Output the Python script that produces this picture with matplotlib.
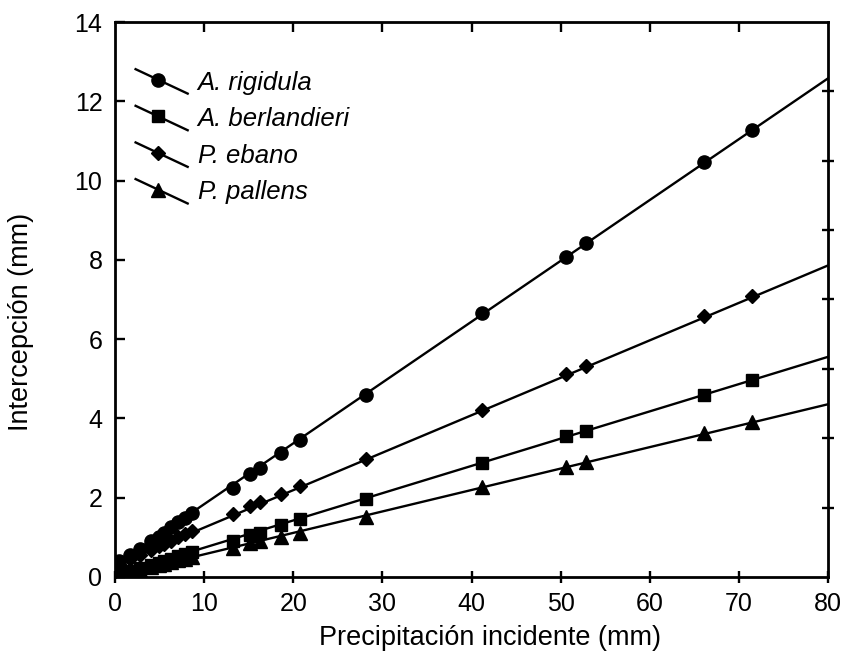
import numpy as np
import matplotlib
matplotlib.use("Agg")
import matplotlib.pyplot as plt
from matplotlib.lines import Line2D

plt.rcParams['font.family'] = ['Liberation Sans', 'DejaVu Sans']

# ---- data ----
precip = [0.5, 1.7, 2.8, 4.0, 4.9, 5.5, 6.3, 7.1, 7.9, 8.7, 13.3, 15.2, 16.3,
          18.6, 20.8, 28.2, 41.2, 50.6, 52.8, 66.1, 71.5]
rigidula = [0.40, 0.56, 0.70, 0.90, 1.02, 1.10, 1.25, 1.38, 1.50, 1.62, 2.25,
            2.60, 2.75, 3.12, 3.45, 4.60, 6.65, 8.08, 8.42, 10.48, 11.28]
berlandieri = [0.08, 0.15, 0.22, 0.30, 0.36, 0.40, 0.46, 0.52, 0.57, 0.62, 0.92,
               1.05, 1.12, 1.30, 1.47, 1.96, 2.88, 3.55, 3.68, 4.60, 4.98]
ebano = [0.32, 0.45, 0.55, 0.68, 0.78, 0.84, 0.92, 1.00, 1.08, 1.15, 1.58,
         1.80, 1.88, 2.10, 2.30, 2.98, 4.22, 5.12, 5.33, 6.58, 7.08]
pallens = [0.05, 0.12, 0.18, 0.24, 0.29, 0.33, 0.38, 0.42, 0.46, 0.50, 0.72,
           0.85, 0.92, 1.00, 1.12, 1.52, 2.28, 2.78, 2.90, 3.62, 3.92]

# regression lines (intercept, slope)
fit_rigidula = (0.30, 0.1535)
fit_berlandieri = (0.05, 0.0688)
fit_ebano = (0.30, 0.0945)
fit_pallens = (0.03, 0.0541)

labels = ["A. rigidula", "A. berlandieri", "P. ebano", "P. pallens"]
xlabel = "Precipitación incidente (mm)"
ylabel = "Intercepción (mm)"
xticks = [0, 10, 20, 30, 40, 50, 60, 70, 80]
yticks = [0, 2, 4, 6, 8, 10, 12, 14]

series = [
    (rigidula, fit_rigidula, 'o', 9.5),
    (berlandieri, fit_berlandieri, 's', 9.0),
    (ebano, fit_ebano, 'D', 7.5),
    (pallens, fit_pallens, '^', 9.5),
]

fig = plt.figure(figsize=(8.45, 6.57), dpi=100)
ax = fig.add_axes([0.136, 0.1218, 0.844, 0.8447])

xfit = np.array([0, 80])
for ys, (b0, b1), mk, ms in series:
    ax.plot(xfit, b0 + b1 * xfit, color='black', lw=1.7, zorder=2)
    ax.plot(precip, ys, linestyle='none', marker=mk, ms=ms, color='black', zorder=3)

ax.set_xlim(0, 80)
ax.set_ylim(0, 14)
ax.set_xticks(xticks)
ax.set_yticks(yticks)
ax.tick_params(axis='x', direction='inout', length=9, width=1.7, labelsize=18, pad=6)
ax.tick_params(axis='y', direction='in', length=7, width=1.7, labelsize=18, pad=9)
for s in ax.spines.values():
    s.set_linewidth(2.0)

# top and right spines ticks
axt = ax.secondary_xaxis('top')
axt.set_xticks([10, 20, 30, 40, 50, 60, 70])
axt.tick_params(direction='in', length=7, width=1.7, labeltop=False)
axr = ax.secondary_yaxis('right')
axr.set_yticks(list(np.linspace(0, 14, 9))[1:-1])
axr.tick_params(direction='inout', length=9, width=1.7, labelright=False)

ax.set_xlabel(xlabel, fontsize=19.5)
ax.set_ylabel(ylabel, fontsize=19.5)
ax.xaxis.set_label_coords(0.526, -0.087)
ax.yaxis.set_label_coords(-0.113, 0.46)

# manual legend
y0 = 0.893
dy = 0.066
for i, ((ys, fit, mk, ms), lab) in enumerate(zip(series, labels)):
    yc = y0 - i * dy
    ax.add_line(Line2D([0.029, 0.102], [yc + 0.022, yc - 0.022], transform=ax.transAxes,
                       color='black', lw=1.7, clip_on=False))
    ax.add_line(Line2D([0.060], [yc + 0.003], transform=ax.transAxes, marker=mk,
                       ms=ms, color='black', linestyle='none', clip_on=False))
    ax.text(0.116, yc - 0.002, lab, transform=ax.transAxes, fontsize=18.5,
            style='italic', va='center', ha='left')

fig.savefig("out.png", dpi=100)
